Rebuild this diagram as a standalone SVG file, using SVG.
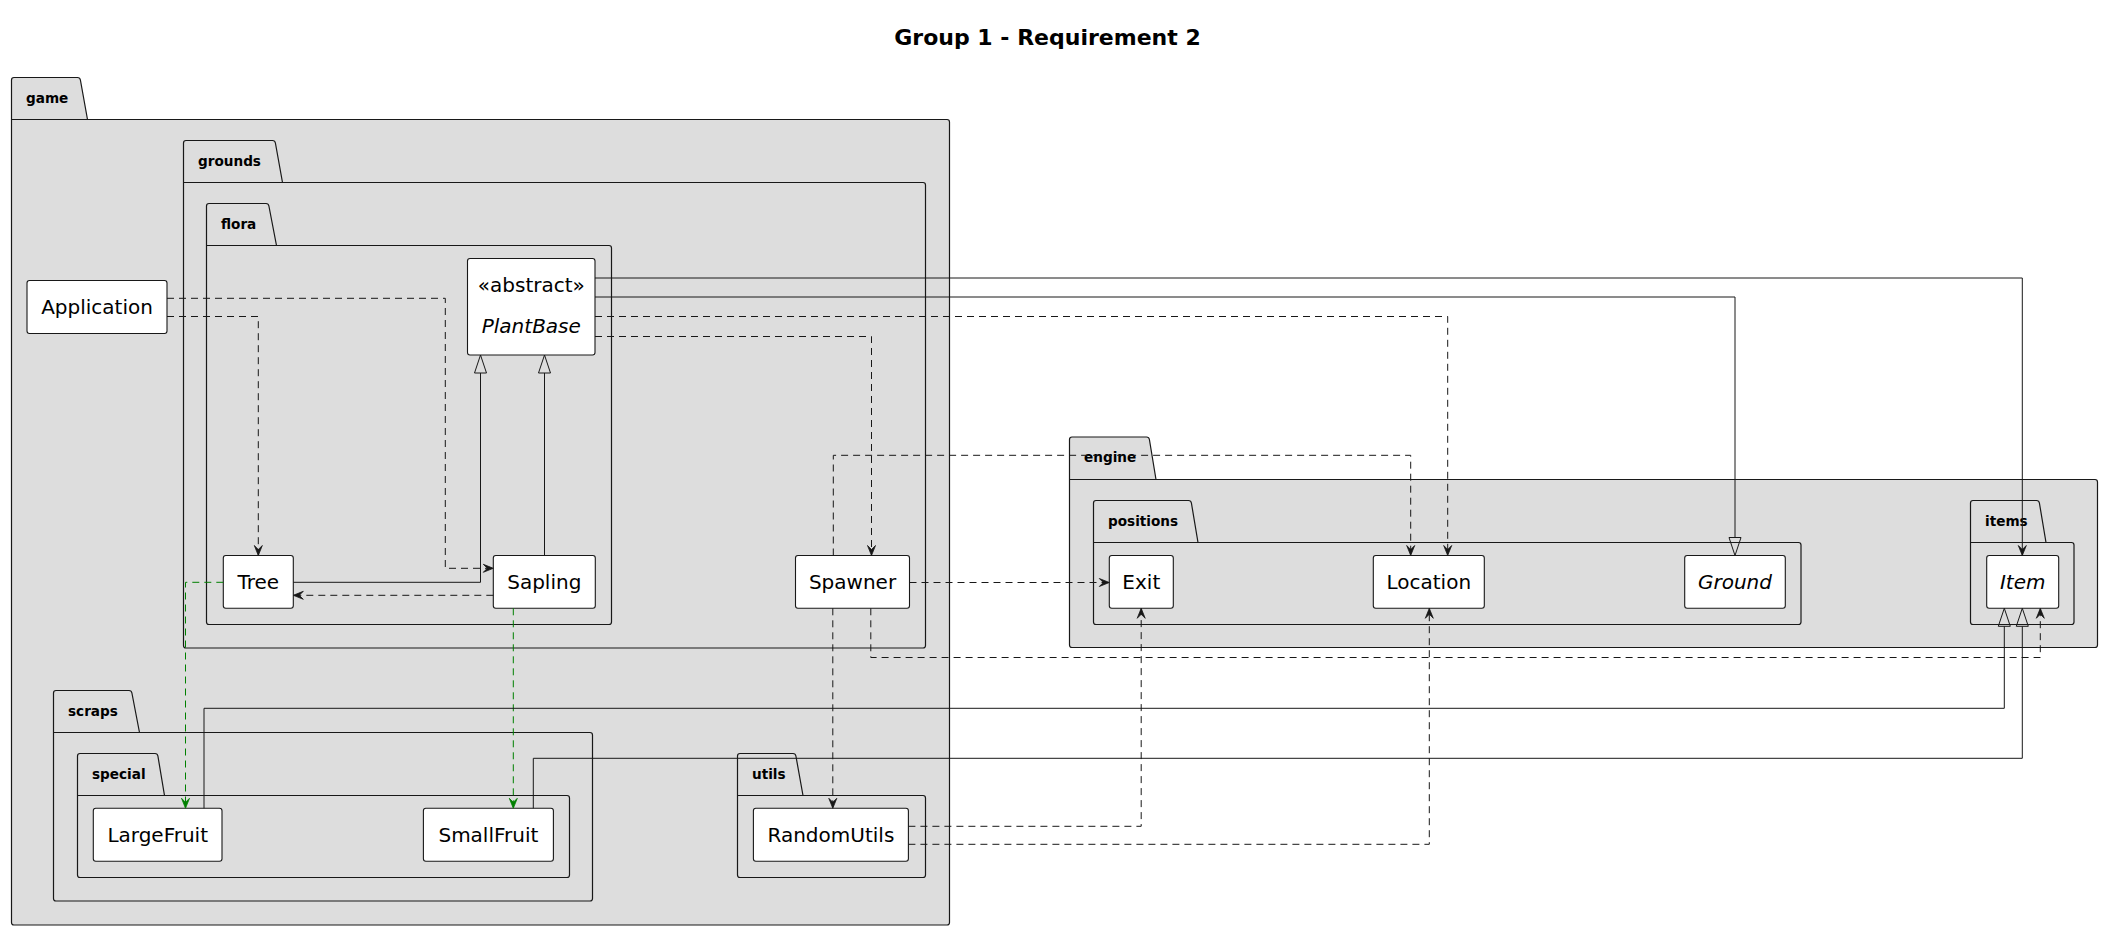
<svg xmlns="http://www.w3.org/2000/svg" width="2104" height="931" viewBox="0 0 2104 931">
<style>
.bg{fill:#FFFFFF}
.pkg{fill:#DDDDDD;stroke:#181818;stroke-width:1.2}
.pkgline{fill:none;stroke:#181818;stroke-width:1.2}
.plabel{font-family:"DejaVu Sans",sans-serif;font-size:13.6px;font-weight:bold;fill:#000000}
.box{fill:#FFFFFF;stroke:#181818;stroke-width:1.1}
.name{font-family:"DejaVu Sans",sans-serif;font-size:20px;fill:#000000;text-anchor:middle}
.abs{font-style:italic}
.title{font-family:"DejaVu Sans",sans-serif;font-size:22px;font-weight:bold;fill:#000000;text-anchor:middle}
.solid{fill:none;stroke:#181818;stroke-width:1}
.dash{fill:none;stroke:#181818;stroke-width:1;stroke-dasharray:7,5}
.gdash{fill:none;stroke:#008000;stroke-width:1;stroke-dasharray:7,5}
</style>
<defs>
<marker id="dep" viewBox="-1 -5 12 10" refX="10" refY="0" markerWidth="12" markerHeight="10" markerUnits="userSpaceOnUse" orient="auto">
<path d="M0,-4 L10,0 L0,4 L4,0 Z" fill="#181818" stroke="#181818" stroke-width="0.8"/>
</marker>
<marker id="depG" viewBox="-1 -5 12 10" refX="10" refY="0" markerWidth="12" markerHeight="10" markerUnits="userSpaceOnUse" orient="auto">
<path d="M0,-4 L10,0 L0,4 L4,0 Z" fill="#008000" stroke="#008000" stroke-width="0.8"/>
</marker>
<marker id="ext" viewBox="-1 -7 20 14" refX="0" refY="0" markerWidth="20" markerHeight="14" markerUnits="userSpaceOnUse" orient="auto">
<path d="M0,-6 L18,0 L0,6 Z" fill="none" stroke="#181818" stroke-width="1"/>
</marker>
</defs>
<rect class="bg" x="0" y="0" width="2104" height="931"/>
<text class="title" x="1047.5" y="45">Group 1 - Requirement 2</text>

<g id="pkg-game">
<path class="pkg" d="M11.5,119.5 V80 Q11.5,77.5 14,77.5 H77.5 Q80,77.5 80.4,80 L87.5,119.5 H947 Q949.5,119.5 949.5,122 V922.5 Q949.5,925 947,925 H14 Q11.5,925 11.5,922.5 Z"/>
<path class="pkgline" d="M11.5,119.5 H87.5"/>
<text class="plabel" x="26" y="102.5">game</text>
</g>
<g id="pkg-grounds">
<path class="pkg" d="M183.5,182.5 V143 Q183.5,140.5 186,140.5 H272.5 Q275,140.5 275.4,143 L282.5,182.5 H923 Q925.5,182.5 925.5,185 V645.5 Q925.5,648 923,648 H186 Q183.5,648 183.5,645.5 Z"/>
<path class="pkgline" d="M183.5,182.5 H282.5"/>
<text class="plabel" x="198" y="165.5">grounds</text>
</g>
<g id="pkg-flora">
<path class="pkg" d="M206.5,245.5 V206 Q206.5,203.5 209,203.5 H266 Q268.5,203.5 268.9,206 L276.5,245.5 H609 Q611.5,245.5 611.5,248 V622 Q611.5,624.5 609,624.5 H209 Q206.5,624.5 206.5,622 Z"/>
<path class="pkgline" d="M206.5,245.5 H276.5"/>
<text class="plabel" x="221" y="228.5">flora</text>
</g>
<g id="pkg-scraps">
<path class="pkg" d="M53.5,732.5 V693 Q53.5,690.5 56,690.5 H129 Q131.5,690.5 131.9,693 L139.5,732.5 H590 Q592.5,732.5 592.5,735 V898.5 Q592.5,901 590,901 H56 Q53.5,901 53.5,898.5 Z"/>
<path class="pkgline" d="M53.5,732.5 H139.5"/>
<text class="plabel" x="68" y="715.5">scraps</text>
</g>
<g id="pkg-special">
<path class="pkg" d="M77.5,795.5 V756 Q77.5,753.5 80,753.5 H155 Q157.5,753.5 157.9,756 L164.5,795.5 H567 Q569.5,795.5 569.5,798 V875 Q569.5,877.5 567,877.5 H80 Q77.5,877.5 77.5,875 Z"/>
<path class="pkgline" d="M77.5,795.5 H164.5"/>
<text class="plabel" x="92" y="778.5">special</text>
</g>
<g id="pkg-utils">
<path class="pkg" d="M737.5,795.5 V756 Q737.5,753.5 740,753.5 H793 Q795.5,753.5 795.9,756 L803,795.5 H923 Q925.5,795.5 925.5,798 V875 Q925.5,877.5 923,877.5 H740 Q737.5,877.5 737.5,875 Z"/>
<path class="pkgline" d="M737.5,795.5 H803"/>
<text class="plabel" x="752" y="778.5">utils</text>
</g>
<g id="pkg-engine">
<path class="pkg" d="M1069.5,479.5 V439.5 Q1069.5,437 1072,437 H1146.5 Q1149,437 1149.4,439.5 L1156,479.5 H2095 Q2097.5,479.5 2097.5,482 V645 Q2097.5,647.5 2095,647.5 H1072 Q1069.5,647.5 1069.5,645 Z"/>
<path class="pkgline" d="M1069.5,479.5 H1156"/>
<text class="plabel" x="1084" y="462">engine</text>
</g>
<g id="pkg-positions">
<path class="pkg" d="M1093.5,542.5 V503 Q1093.5,500.5 1096,500.5 H1188.5 Q1191,500.5 1191.4,503 L1198,542.5 H1798.5 Q1801,542.5 1801,545 V622 Q1801,624.5 1798.5,624.5 H1096 Q1093.5,624.5 1093.5,622 Z"/>
<path class="pkgline" d="M1093.5,542.5 H1198"/>
<text class="plabel" x="1108" y="525.5">positions</text>
</g>
<g id="pkg-items">
<path class="pkg" d="M1970.5,542.5 V503 Q1970.5,500.5 1973,500.5 H2036.5 Q2039,500.5 2039.4,503 L2046,542.5 H2071.5 Q2074,542.5 2074,545 V622 Q2074,624.5 2071.5,624.5 H1973 Q1970.5,624.5 1970.5,622 Z"/>
<path class="pkgline" d="M1970.5,542.5 H2046"/>
<text class="plabel" x="1985" y="525.5">items</text>
</g>

<g id="Application"><rect class="box" x="27" y="280.5" width="140" height="53" rx="2.5"/><text class="name" x="97" y="314">Application</text></g>
<g id="PlantBase"><rect class="box" x="467.5" y="258.5" width="127.5" height="96.5" rx="2.5"/><text class="name" x="531.3" y="291.5">«abstract»</text><text class="name abs" x="531.3" y="333.3">PlantBase</text></g>
<g id="Tree"><rect class="box" x="223.3" y="555.5" width="70" height="52.8" rx="2.5"/><text class="name" x="258.3" y="589">Tree</text></g>
<g id="Sapling"><rect class="box" x="493.3" y="555.5" width="102" height="52.8" rx="2.5"/><text class="name" x="544.3" y="589">Sapling</text></g>
<g id="Spawner"><rect class="box" x="795.5" y="555.5" width="114" height="52.8" rx="2.5"/><text class="name" x="852.5" y="589">Spawner</text></g>
<g id="Exit"><rect class="box" x="1109.3" y="555.5" width="64" height="52.8" rx="2.5"/><text class="name" x="1141.3" y="589">Exit</text></g>
<g id="Location"><rect class="box" x="1373.3" y="555.5" width="111" height="52.8" rx="2.5"/><text class="name" x="1428.8" y="589">Location</text></g>
<g id="Ground"><rect class="box" x="1684.7" y="555.5" width="100.6" height="52.8" rx="2.5"/><text class="name abs" x="1735" y="589">Ground</text></g>
<g id="Item"><rect class="box" x="1986.7" y="555.5" width="72" height="52.8" rx="2.5"/><text class="name abs" x="2022.7" y="589">Item</text></g>
<g id="LargeFruit"><rect class="box" x="93.3" y="808.3" width="128.7" height="53" rx="2.5"/><text class="name" x="157.7" y="842">LargeFruit</text></g>
<g id="SmallFruit"><rect class="box" x="423.4" y="808.3" width="130" height="53" rx="2.5"/><text class="name" x="488.4" y="842">SmallFruit</text></g>
<g id="RandomUtils"><rect class="box" x="753.4" y="808.3" width="155" height="53" rx="2.5"/><text class="name" x="830.9" y="842">RandomUtils</text></g>

<g id="connectors">
<path class="dash" d="M167,316.5 H258.3 V555.5" marker-end="url(#dep)"/>
<path class="dash" d="M167,298.3 H445.3 V568.3 H493.3" marker-end="url(#dep)"/>
<path class="solid" d="M293.3,582.3 H480.5 V373" marker-end="url(#ext)"/>
<path class="solid" d="M544.5,555.5 V373" marker-end="url(#ext)"/>
<path class="dash" d="M493.3,595.3 H293.3" marker-end="url(#dep)"/>
<path class="solid" d="M595,278 H2022.3 V555.5" marker-end="url(#dep)"/>
<path class="solid" d="M595,297 H1735 V537.5" marker-end="url(#ext)"/>
<path class="dash" d="M595,316.5 H1447.7 V555.5" marker-end="url(#dep)"/>
<path class="dash" d="M595,336.5 H871.5 V555.5" marker-end="url(#dep)"/>
<path class="dash" d="M833.3,555.5 V455.3 H1410.7 V555.5" marker-end="url(#dep)"/>
<path class="dash" d="M909.5,582.5 H1109.3" marker-end="url(#dep)"/>
<path class="dash" d="M832.8,608.3 V808.3" marker-end="url(#dep)"/>
<path class="dash" d="M870.8,608.3 V657.5 H2040.3 V608.3" marker-end="url(#dep)"/>
<path class="gdash" d="M223.3,582.3 H185.5 V808.3" marker-end="url(#depG)"/>
<path class="gdash" d="M513.3,608.3 V808.3" marker-end="url(#depG)"/>
<path class="solid" d="M204,808.3 V708.3 H2004.3 V626.3" marker-end="url(#ext)"/>
<path class="solid" d="M533.3,808.3 V758.3 H2022.3 V626.3" marker-end="url(#ext)"/>
<path class="dash" d="M908.4,826.3 H1141.2 V608.3" marker-end="url(#dep)"/>
<path class="dash" d="M908.4,844.3 H1429.3 V608.3" marker-end="url(#dep)"/>
</g>
</svg>
